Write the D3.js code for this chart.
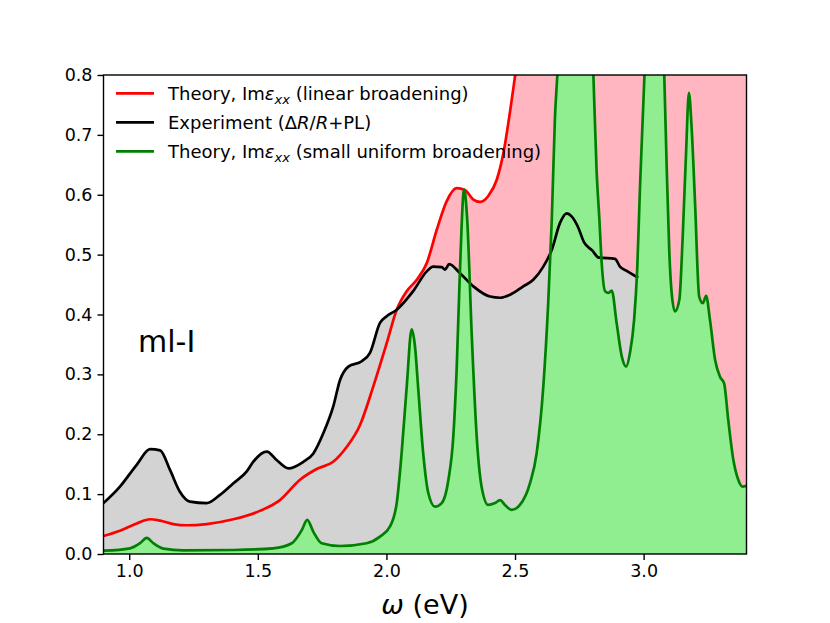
<!DOCTYPE html>
<html lang="en">
<head>
    <meta charset="UTF-8">
    <script src="https://d3js.org/d3.v7.min.js" charset="utf-8"></script>
    <title>ml-I spectra</title>
    <style>
        body { margin: 0; background: white; }
        svg text { font-family: "DejaVu Sans", sans-serif; fill: black; }
    </style>
</head>
<body>
<div id="chart"></div>

<script>
    // Experiment (dR/R + PL)
    const expX = [0.9, 0.964, 1.029, 1.081, 1.12, 1.159, 1.197, 1.236, 1.301, 1.353, 1.405, 1.457, 1.482,
        1.535, 1.573, 1.619, 1.677, 1.716, 1.755, 1.793, 1.82, 1.852, 1.904, 1.936, 1.975, 2.001, 2.04,
        2.104, 2.157, 2.182, 2.215, 2.228, 2.244, 2.286, 2.338, 2.403, 2.442, 2.481, 2.532, 2.571, 2.61,
        2.643, 2.675, 2.701, 2.72, 2.744, 2.768, 2.8, 2.826, 2.889, 2.908, 2.934, 2.979];
    const expY = [0.085, 0.1125, 0.149, 0.175, 0.173, 0.14, 0.104, 0.0875, 0.085, 0.0987, 0.118, 0.138, 0.154,
        0.171, 0.157, 0.143, 0.154, 0.168, 0.202, 0.246, 0.291, 0.313, 0.322, 0.336, 0.386, 0.397, 0.408,
        0.439, 0.472, 0.48, 0.479, 0.475, 0.484, 0.469, 0.447, 0.43, 0.428, 0.433, 0.447, 0.458, 0.48,
        0.508, 0.553, 0.569, 0.564, 0.547, 0.521, 0.507, 0.495, 0.493, 0.48, 0.473, 0.461];

    // Theory, linear broadening
    const linX = [0.9, 0.964, 1.029, 1.081, 1.12, 1.171, 1.223, 1.301, 1.405, 1.508, 1.586, 1.664, 1.729,
        1.793, 1.846, 1.897, 1.949, 2.001, 2.04, 2.079, 2.118, 2.157, 2.196, 2.234, 2.273, 2.305, 2.338,
        2.364, 2.396, 2.429, 2.455, 2.48, 2.5, 2.52, 2.55, 2.6, 2.7, 2.8, 3.0, 3.2, 3.4];
    const linY = [0.030, 0.039, 0.051, 0.058, 0.0557, 0.050, 0.048, 0.050, 0.058, 0.072, 0.090, 0.124, 0.142,
        0.154, 0.179, 0.215, 0.28, 0.352, 0.408, 0.439, 0.458, 0.486, 0.542, 0.589, 0.611, 0.608, 0.592,
        0.588, 0.598, 0.625, 0.670, 0.737, 0.798, 0.86, 0.95, 1.1, 1.3, 1.4, 1.5, 1.5, 1.5];

    // Theory, small uniform broadening
    const smallX = [0.9, 1.003, 1.042, 1.068, 1.094, 1.133, 1.21, 1.405, 1.56, 1.632, 1.671, 1.692, 1.716,
        1.748, 1.82, 1.923, 1.975, 2.014, 2.04, 2.059, 2.079, 2.098, 2.111, 2.124, 2.143, 2.163, 2.189,
        2.215, 2.241, 2.26, 2.273, 2.286, 2.302, 2.314, 2.332, 2.351, 2.37, 2.396, 2.422, 2.442, 2.461,
        2.487, 2.519, 2.558, 2.584, 2.61, 2.629, 2.643, 2.655, 2.667, 2.69, 2.73, 2.77, 2.79, 2.804,
        2.817, 2.828, 2.837, 2.85, 2.863, 2.876, 2.895, 2.915, 2.932, 2.947, 2.963, 2.975, 2.986, 2.999,
        3.005, 3.03, 3.05, 3.07, 3.079, 3.09, 3.1, 3.109, 3.122, 3.139, 3.152, 3.165, 3.176, 3.187, 3.2,
        3.216, 3.23, 3.243, 3.258, 3.278, 3.297, 3.313, 3.329, 3.349, 3.368, 3.385, 3.4];
    const smallY = [0.0055, 0.0095, 0.018, 0.027, 0.018, 0.009, 0.006, 0.0067, 0.0095, 0.018, 0.040, 0.057, 0.037,
        0.018, 0.0134, 0.018, 0.029, 0.046, 0.085, 0.168, 0.280, 0.375, 0.347, 0.274, 0.168, 0.1015, 0.079,
        0.085, 0.124, 0.196, 0.308, 0.475, 0.609, 0.559, 0.363, 0.196, 0.1125, 0.082, 0.085, 0.090, 0.082,
        0.0736, 0.082, 0.118, 0.168, 0.280, 0.419, 0.559, 0.726, 0.82, 1.1, 1.3, 1.2, 1.0, 0.81,
        0.642, 0.559, 0.486, 0.439, 0.436, 0.440, 0.386, 0.330, 0.313, 0.336, 0.391, 0.475, 0.614, 0.754,
        0.82, 1.2, 1.3, 1.0, 0.82, 0.642, 0.503, 0.436, 0.405, 0.425, 0.531, 0.670, 0.770, 0.709, 0.586,
        0.430, 0.419, 0.431, 0.391, 0.324, 0.296, 0.285, 0.224, 0.157, 0.124, 0.1125, 0.114];

    const xTicks = [1.0, 1.5, 2.0, 2.5, 3.0];
    const yTicks = [0.0, 0.1, 0.2, 0.3, 0.4, 0.5, 0.6, 0.7, 0.8];

    const width = 830;
    const height = 623;
    const margin = {left: 103.5, right: 83.5, top: 75, bottom: 69};

    const svg = d3.select("#chart").append("svg")
        .attr("width", width)
        .attr("height", height);

    const x = d3.scaleLinear().domain([0.9, 3.4]).range([margin.left, width - margin.right]);
    const y = d3.scaleLinear().domain([0, 0.8]).range([height - margin.bottom, margin.top]);

    svg.append("clipPath").attr("id", "plot-clip")
        .append("rect")
        .attr("x", margin.left).attr("y", margin.top)
        .attr("width", x.range()[1] - x.range()[0])
        .attr("height", y.range()[0] - y.range()[1]);

    const plot = svg.append("g").attr("clip-path", "url(#plot-clip)");

    const toPts = (xs, ys) => xs.map((v, i) => [v, ys[i]]);
    const lin = toPts(linX, linY);
    const exp = toPts(expX, expY);
    const small = toPts(smallX, smallY);

    const area = d3.area().x(d => x(d[0])).y0(y(0)).y1(d => y(d[1])).curve(d3.curveMonotoneX);
    const line = d3.line().x(d => x(d[0])).y(d => y(d[1])).curve(d3.curveMonotoneX);

    // fills first, pink under gray under green
    plot.append("path").attr("d", area(lin)).attr("fill", "#ffb6c1");
    plot.append("path").attr("d", area(exp)).attr("fill", "#d3d3d3");
    plot.append("path").attr("d", area(small)).attr("fill", "#90ee90");

    const series = [
        {pts: lin, color: "#ff0000"},
        {pts: exp, color: "#000000"},
        {pts: small, color: "#008000"}
    ];
    series.forEach(s => {
        plot.append("path").attr("d", line(s.pts))
            .attr("fill", "none")
            .attr("stroke", s.color)
            .attr("stroke-width", 2.7)
            .attr("stroke-linejoin", "round");
    });

    // axes
    const xAxis = svg.append("g")
        .attr("transform", `translate(0,${y(0)})`)
        .call(d3.axisBottom(x).tickValues(xTicks).tickFormat(d3.format(".1f")).tickSizeInner(6).tickSizeOuter(0).tickPadding(5));
    const yAxis = svg.append("g")
        .attr("transform", `translate(${margin.left},0)`)
        .call(d3.axisLeft(y).tickValues(yTicks).tickFormat(d3.format(".1f")).tickSizeInner(6).tickSizeOuter(0).tickPadding(5));
    [xAxis, yAxis].forEach(a => {
        a.select(".domain").remove();
        a.selectAll(".tick line").attr("stroke", "black").attr("stroke-width", 1.4);
        a.selectAll(".tick text").style("font-size", "17.5px").style("font-family", "DejaVu Sans");
    });

    svg.append("rect")
        .attr("x", margin.left).attr("y", margin.top)
        .attr("width", x.range()[1] - x.range()[0])
        .attr("height", y.range()[0] - y.range()[1])
        .attr("fill", "none").attr("stroke", "black").attr("stroke-width", 1.4);

    // x label
    const xl = svg.append("text")
        .attr("x", (x.range()[0] + x.range()[1]) / 2)
        .attr("y", 614)
        .attr("text-anchor", "middle")
        .style("font-size", "27px");
    xl.append("tspan").style("font-style", "italic").text("ω");
    xl.append("tspan").text(" (eV)");

    // panel label
    svg.append("text")
        .attr("x", 138).attr("y", 352)
        .style("font-size", "30px")
        .text("ml-I");

    // legend, no frame
    const legend = svg.append("g");
    const rows = [
        {color: "#ff0000", parts: [["Theory, Im", ""], ["ε", "i"], ["xx", "is"], [" (linear broadening)", ""]]},
        {color: "#000000", parts: [["Experiment (Δ", ""], ["R", "i"], ["/", ""], ["R", "i"], ["+PL)", ""]]},
        {color: "#008000", parts: [["Theory, Im", ""], ["ε", "i"], ["xx", "is"], [" (small uniform broadening)", ""]]}
    ];
    rows.forEach((r, i) => {
        const cy = 93.3 + i * 29;
        legend.append("line")
            .attr("x1", 116).attr("x2", 154)
            .attr("y1", cy).attr("y2", cy)
            .attr("stroke", r.color).attr("stroke-width", 2.7);
        const t = legend.append("text")
            .attr("x", 168).attr("y", cy + 6.5)
            .style("font-size", "18px");
        r.parts.forEach(p => {
            const ts = t.append("tspan").text(p[0]);
            if (p[1].includes("i")) ts.style("font-style", "italic");
            if (p[1] === "is") {
                ts.attr("dy", 4).style("font-size", "13px");
            } else if (p[1] === "" && ts.node().previousSibling && d3.select(ts.node().previousSibling).attr("dy") === "4") {
                ts.attr("dy", -4);
            }
        });
    });
</script>
</body>
</html>
